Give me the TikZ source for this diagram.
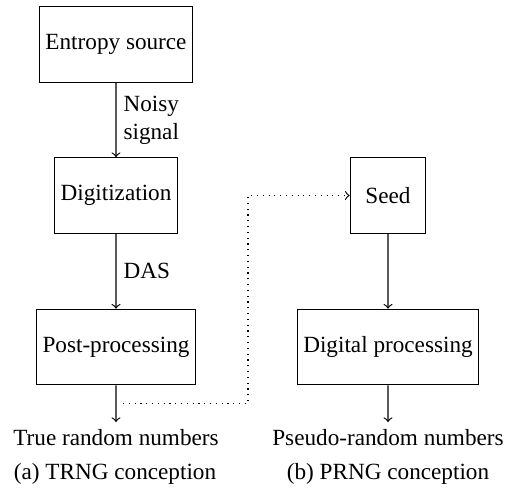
\documentclass[tikz,border=0pt]{standalone}
\usepackage{fontspec}
\setmainfont{Liberation Serif}

\tikzset{
  block/.style={draw=black, rectangle, inner sep=2.5pt, minimum width=32.6pt, minimum height=32.6pt},
  plain/.style={inner sep=3pt}
}

\begin{document}
\begin{tikzpicture}[scale=0.1515, line width=0.5pt]
      \useasboundingbox (0,0) rectangle (50.6,-49.1);
      % (a) TRNG
      \node [block] (src) at (11.6,-4.45) {Entropy source};
      \node [block] (dig) at (11.6,-19.55) {Digitization};
      \node [block] (post) at (11.6,-34.7) {Post-processing};
      \node [plain, anchor=north] (trn) at (11.6,-42.2) {True random numbers};
      \node (capa) at (11.5,-47.4) {(a) TRNG conception};
      \draw [->] (src) -- node [right, align=left, inner sep=3pt] {Noisy\\signal} (dig);
      \draw [->] (dig) -- node [right, inner sep=3pt] {DAS} (post);
      \draw [->] (post) -- coordinate (tap) (trn);
      % (b) PRNG
      \node [block] (seed) at (38.8,-19.55) {Seed};
      \node [block] (proc) at (38.8,-34.7) {Digital processing};
      \node [plain, anchor=north] (prn) at (38.8,-42.2) {Pseudo-random numbers};
      \node (capb) at (38.8,-47.4) {(b) PRNG conception};
      \draw [->] (seed) -- (proc);
      \draw [->] (proc) -- (prn);
      % seed from the true random numbers
      \coordinate (knee) at (24.8,-40.4);
      \draw [->, dotted, shorten <=3pt] (tap) -- (tap -| knee) |- (seed);
\end{tikzpicture}
\end{document}
